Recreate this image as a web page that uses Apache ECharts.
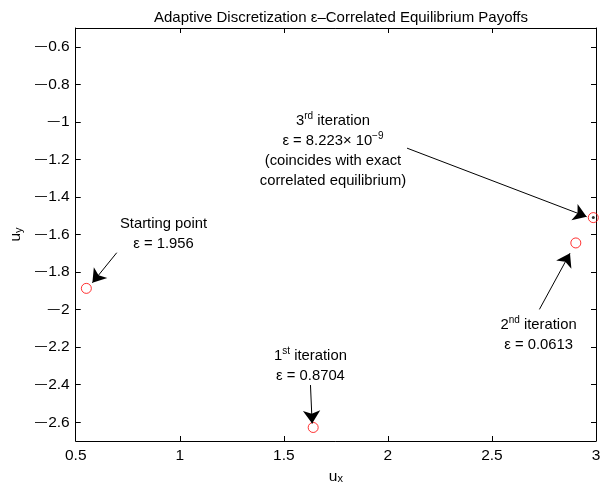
<!DOCTYPE html>
<html><head><meta charset="utf-8">
<script src="https://cdn.jsdelivr.net/npm/echarts@6/dist/echarts.min.js"></script>
<style>html,body{margin:0;padding:0;background:#fff}#c{width:613px;height:491px}</style>
</head><body><div id="c"></div>
<script>
// ---- data ----
const stages = ['Starting point', '1st iteration', '2nd iteration', '3rd iteration'];
const ux = [0.551, 1.641, 2.903, 2.987];
const uy = [-1.887, -2.628, -1.645, -1.510];
const epsilonText = ['1.956', '0.8704', '0.0613', '8.223\u00d7 10{sup|\u22129}'];
const exactCE = [[2.987, -1.510]];
const xTicks = [0.5, 1, 1.5, 2, 2.5, 3];
const yTicks = [-2.6, -2.4, -2.2, -2, -1.8, -1.6, -1.4, -1.2, -1, -0.8, -0.6];
// annotation anchors (data coords): text centre, arrow tail, arrow head
const labelAt = [[0.922, -1.597], [1.628, -2.302], [2.724, -2.136], [1.736, -1.154]];
const arrowFrom = [[0.697, -1.697], [1.628, -2.402], [2.728, -1.999], [2.092, -1.140]];
const arrowTo = [[0.580, -1.857], [1.636, -2.607], [2.875, -1.700], [2.955, -1.505]];

const FONT = 'Liberation Sans';
const labelTexts = [
  'Starting point\n\u03b5 = ' + epsilonText[0],
  '1{sup|st} iteration\n\u03b5 = ' + epsilonText[1],
  '2{sup|nd} iteration\n\u03b5 = ' + epsilonText[2],
  '3{sup|rd} iteration\n\u03b5 = ' + epsilonText[3] + '\n(coincides with exact\ncorrelated equilibrium)'
];

const chart = echarts.init(document.getElementById('c'), null, {renderer: 'canvas'});
const fmt = v => (v < 0 ? '{m|\u2014}\u200a' + String(-v) : String(v));
const tickRich = {m: {fontFamily: FONT, fontSize: 12, color: '#000'}};
const axisCommon = {
  axisLine: {show: true, onZero: false, lineStyle: {color: '#000', width: 1}},
  axisTick: {show: true, inside: true, length: 5, lineStyle: {color: '#000', width: 1}},
  splitLine: {show: false}
};
const option = {
  animation: false,
  backgroundColor: '#fff',
  title: {
    text: 'Adaptive Discretization \u03b5\u2013Correlated Equilibrium Payoffs',
    left: 336, top: 5, textAlign: 'center',
    textStyle: {fontFamily: FONT, fontSize: 15, fontWeight: 'normal', color: '#000'}
  },
  grid: {left: 75, right: 17, top: 28, bottom: 50},
  xAxis: [
    Object.assign({}, axisCommon, {
      type: 'value', min: 0.5, max: 3, position: 'bottom',
      axisTick: Object.assign({}, axisCommon.axisTick, {customValues: xTicks}),
      axisLabel: {customValues: xTicks, formatter: fmt, rich: tickRich, fontFamily: FONT, fontSize: 15.5, color: '#000', margin: 7},
      name: 'u{sub|x}', nameLocation: 'middle', nameGap: 22,
      nameTextStyle: {fontFamily: FONT, fontSize: 15.5, color: '#000',
        rich: {sub: {fontFamily: FONT, fontSize: 11, color: '#000', verticalAlign: 'bottom', lineHeight: 10}}}
    }),
    Object.assign({}, axisCommon, {
      type: 'value', min: 0.5, max: 3, position: 'top',
      axisTick: Object.assign({}, axisCommon.axisTick, {customValues: xTicks}),
      axisLabel: {show: false}
    })
  ],
  yAxis: [
    Object.assign({}, axisCommon, {
      type: 'value', min: -2.7, max: -0.5, position: 'left',
      axisTick: Object.assign({}, axisCommon.axisTick, {customValues: yTicks}),
      axisLabel: {customValues: yTicks, formatter: fmt, rich: tickRich, fontFamily: FONT, fontSize: 15.5, color: '#000', margin: 6},
      name: 'u{sub|y}', nameLocation: 'middle', nameGap: 48, nameRotate: 90,
      nameTextStyle: {fontFamily: FONT, fontSize: 15.5, color: '#000',
        rich: {sub: {fontFamily: FONT, fontSize: 11, color: '#000', verticalAlign: 'bottom', lineHeight: 10}}}
    }),
    Object.assign({}, axisCommon, {
      type: 'value', min: -2.7, max: -0.5, position: 'right',
      axisTick: Object.assign({}, axisCommon.axisTick, {customValues: yTicks}),
      axisLabel: {show: false}
    })
  ],
  series: [
    {
      name: 'payoffs', type: 'scatter', clip: false, z: 3,
      data: ux.map((x, i) => [x, uy[i]]),
      symbol: 'circle', symbolSize: 10,
      itemStyle: {color: 'rgba(0,0,0,0)', borderColor: '#ff0000', borderWidth: 1},
      emphasis: {disabled: true},
      markLine: {
        silent: true, animation: false,
        symbol: ['none', 'arrow'], symbolSize: 13,
        lineStyle: {color: '#000', width: 1, type: 'solid'},
        label: {show: false}, emphasis: {disabled: true},
        data: arrowFrom.map((f, i) => [{coord: f}, {coord: arrowTo[i]}])
      }
    },
    {
      name: 'exact CE', type: 'scatter', clip: false, z: 4,
      data: exactCE, symbol: 'circle', symbolSize: 3,
      itemStyle: {color: '#000'}, emphasis: {disabled: true}
    }
  ]
};
chart.setOption(option);

const rich = {
  sup: {fontFamily: FONT, fontSize: 10, color: '#000', verticalAlign: 'top', lineHeight: 12}
};
chart.setOption({
  graphic: labelTexts.map((t, i) => {
    const p = chart.convertToPixel({gridIndex: 0}, labelAt[i]);
    return {
      type: 'text', x: p[0], y: p[1], silent: true, z: 10,
      style: {text: t, fill: '#000', fontFamily: FONT, fontSize: 14.8,
        lineHeight: 20, align: 'center', verticalAlign: 'middle', rich: rich}
    };
  })
});
</script>
</body></html>
